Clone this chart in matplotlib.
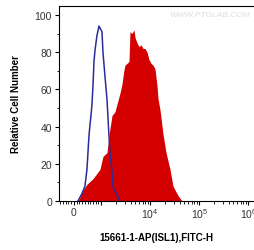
import numpy as np
import matplotlib
matplotlib.use("Agg")
import matplotlib.pyplot as plt
from matplotlib.ticker import FixedLocator, NullFormatter

plt.rcParams['font.family'] = ['Liberation Sans', 'DejaVu Sans']
plt.rcParams['mathtext.default'] = 'regular'

# Isotype control (blue outline)
ctrl_x = [147, 294, 405, 478, 552, 589, 626, 662, 699, 736, 773, 846, 920,
          1038, 1088, 1196, 1312, 1376, 1443, 1513, 1663, 1742, 2102, 2421]
ctrl_y = [0, 4, 8, 17, 35, 41, 46, 52, 62, 75, 81, 89, 94,
          91, 80, 67, 55, 45, 35, 26, 16, 8, 3, 0]

# ISL1 stained sample (red filled)
samp_x = [147, 221, 294, 478, 699, 955, 1088, 1312, 1513, 1663, 1914, 2102,
          2421, 2660, 2900, 3060, 3365, 3690, 3870, 4256, 4670, 4893, 5383,
          5912, 6500, 7130, 7840, 8610, 9460, 10380, 11420, 12530, 13770,
          14430, 15850, 18240, 21040, 25350, 29170, 36860, 44560]
samp_y = [0, 2, 5, 9, 12, 17, 24, 26, 39, 46, 48, 52,
          58, 63, 70, 73, 74, 75, 91, 90, 92, 88, 85,
          83, 84, 82, 82, 80, 76, 74, 73, 71, 62,
          55, 49, 36, 26, 17, 8, 3, 0]

xtick_vals = [0, 1e3, 1e4, 1e5, 1e6]
xtick_labels = ['0', '', '$10^4$', '$10^5$', '$10^6$']

fig = plt.figure(figsize=(2.54, 2.51), dpi=100)
ax = fig.add_axes([0.232, 0.195, 0.768, 0.777])

ax.set_xscale('symlog', linthresh=1000, linscale=0.5)
ax.fill_between(samp_x, samp_y, 0, color='#d40000', lw=0, zorder=2)
ax.plot(ctrl_x, ctrl_y, color='#2b2b9c', lw=1.1, zorder=3)

ax.set_xlim(-551, 1.31e6)
ax.set_ylim(0, 104.8)

ax.xaxis.set_major_locator(FixedLocator(xtick_vals))
ax.set_xticklabels(xtick_labels)
minors = [-500, -400, -300, -200, -100, 100, 200, 300, 400, 500, 600, 700, 800, 900]
for d in [1e3, 1e4, 1e5]:
    minors += [k * d for k in range(2, 10)]
ax.xaxis.set_minor_locator(FixedLocator(minors))
ax.xaxis.set_minor_formatter(NullFormatter())

ax.set_yticks([0, 20, 40, 60, 80, 100])
ax.set_yticks([10, 30, 50, 70, 90], minor=True)

ax.tick_params(axis='both', which='major', direction='out', length=3, width=0.8,
               labelsize=7.5, colors='black', labelcolor='#333333')
ax.tick_params(axis='both', which='minor', direction='out', length=1.8, width=0.6)
ax.tick_params(axis='y', pad=2)
ax.tick_params(axis='x', pad=1)
for lab in ax.get_xticklabels():
    lab.set_verticalalignment('top')

ax.spines['right'].set_visible(False)
for s in ['left', 'bottom', 'top']:
    ax.spines[s].set_linewidth(0.8)

ax.set_xlabel('15661-1-AP(ISL1),FITC-H', fontsize=7, fontweight='bold', labelpad=8)
ax.set_ylabel('Relative Cell Number', fontsize=7, fontweight='bold', labelpad=10)

ax.text(0.98, 0.955, 'WWW.PTGLAB.COM', transform=ax.transAxes, ha='right', va='center',
        fontsize=6, color='#dddddd', style='italic')

fig.savefig('out.png', dpi=100)
